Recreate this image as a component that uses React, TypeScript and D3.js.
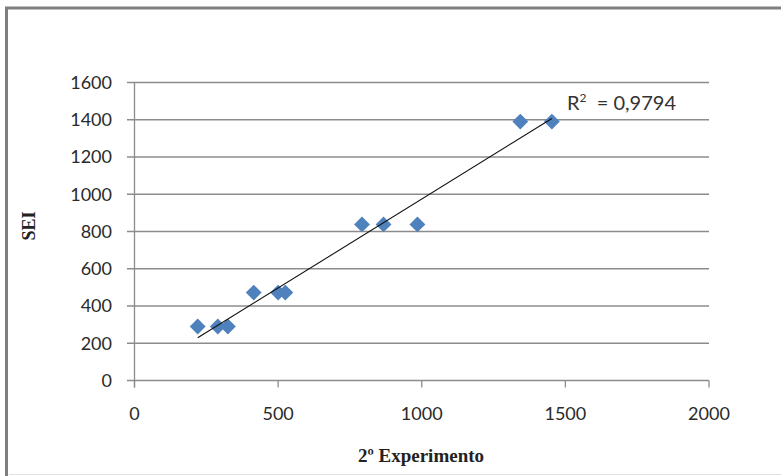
import React from "react";
import * as d3 from "d3";

const xValues = [220, 290, 325, 415, 500, 525, 792, 867, 985, 1343, 1453];
const yValues = [290, 290, 290, 472, 472, 472, 838, 838, 838, 1390, 1390];
const xTicks = [0, 500, 1000, 1500, 2000];
const yTicks = [0, 200, 400, 600, 800, 1000, 1200, 1400, 1600];
const r2Label = "0,9794";

export default function App() {
  const W = 781, H = 476;
  const x = d3.scaleLinear().domain([0, 2000]).range([134.5, 709]);
  const y = d3.scaleLinear().domain([0, 1600]).range([380.5, 82.5]);
  const n = xValues.length;
  const mx = d3.mean(xValues)!, my = d3.mean(yValues)!;
  let sxy = 0, sxx = 0;
  for (let i = 0; i < n; i++) {
    sxy += (xValues[i] - mx) * (yValues[i] - my);
    sxx += (xValues[i] - mx) ** 2;
  }
  const slope = sxy / sxx;
  const icpt = my - slope * mx;
  const x0 = d3.min(xValues)!, x1 = d3.max(xValues)!;
  const tickFont = "Lato, 'Open Sans', sans-serif";
  const serif = "'Liberation Serif', 'DejaVu Serif', serif";
  const diamond = d3.symbol().type(d3.symbolDiamond2).size(160)()!;
  return (
    <svg width={W} height={H} style={{ position: "absolute", left: 0, top: 0, display: "block" }}>
      <rect x={0} y={0} width={W} height={H} fill="#fff" />
      <line x1={5} x2={W} y1={8} y2={8} stroke="#7f7f7f" strokeWidth={3} />
      <line x1={6.5} x2={6.5} y1={7} y2={H} stroke="#7f7f7f" strokeWidth={3} />
      <line x1={9} x2={W} y1={474.5} y2={474.5} stroke="#e0e0e0" strokeWidth={1} />
      {yTicks.map((t) => (
        <g key={"y" + t}>
          <line x1={127} x2={x(2000)} y1={y(t)} y2={y(t)} stroke="#8c8c8c" strokeWidth={1.3} />
          <text x={112} y={y(t)} dy="0.36em" textAnchor="end" fontFamily={tickFont} fontSize={18} fill="#2a2a2a">{t}</text>
        </g>
      ))}
      <line x1={x(0)} x2={x(0)} y1={y(1600)} y2={y(0) + 7} stroke="#8c8c8c" strokeWidth={1.3} />
      {xTicks.map((t) => (
        <g key={"x" + t}>
          <line x1={x(t)} x2={x(t)} y1={y(0)} y2={y(0) + 7} stroke="#8c8c8c" strokeWidth={1.3} />
          <text x={x(t)} y={420} textAnchor="middle" fontFamily={tickFont} fontSize={18} fill="#2a2a2a">{t}</text>
        </g>
      ))}
      {xValues.map((v, i) => (
        <path key={"p" + i} d={diamond} transform={`translate(${x(v)},${y(yValues[i])})`} fill="#4f81bd" />
      ))}
      <line x1={x(x0)} y1={y(slope * x0 + icpt)} x2={x(x1)} y2={y(slope * x1 + icpt)} stroke="#111" strokeWidth={1.1} />
      <text x={567} y={110} fontFamily={tickFont} fontSize={20} fill="#333" xmlSpace="preserve">
        R<tspan dy={-8} fontSize={12}>2</tspan><tspan dy={8}>{"  = " + r2Label}</tspan>
      </text>
      <text transform="translate(35,226) rotate(-90)" textAnchor="middle" fontFamily={serif} fontWeight="bold" fontSize={18} fill="#222">SEI</text>
      <text x={421} y={462} textAnchor="middle" fontFamily={serif} fontWeight="bold" fontSize={19} fill="#222">2º Experimento</text>
    </svg>
  );
}
